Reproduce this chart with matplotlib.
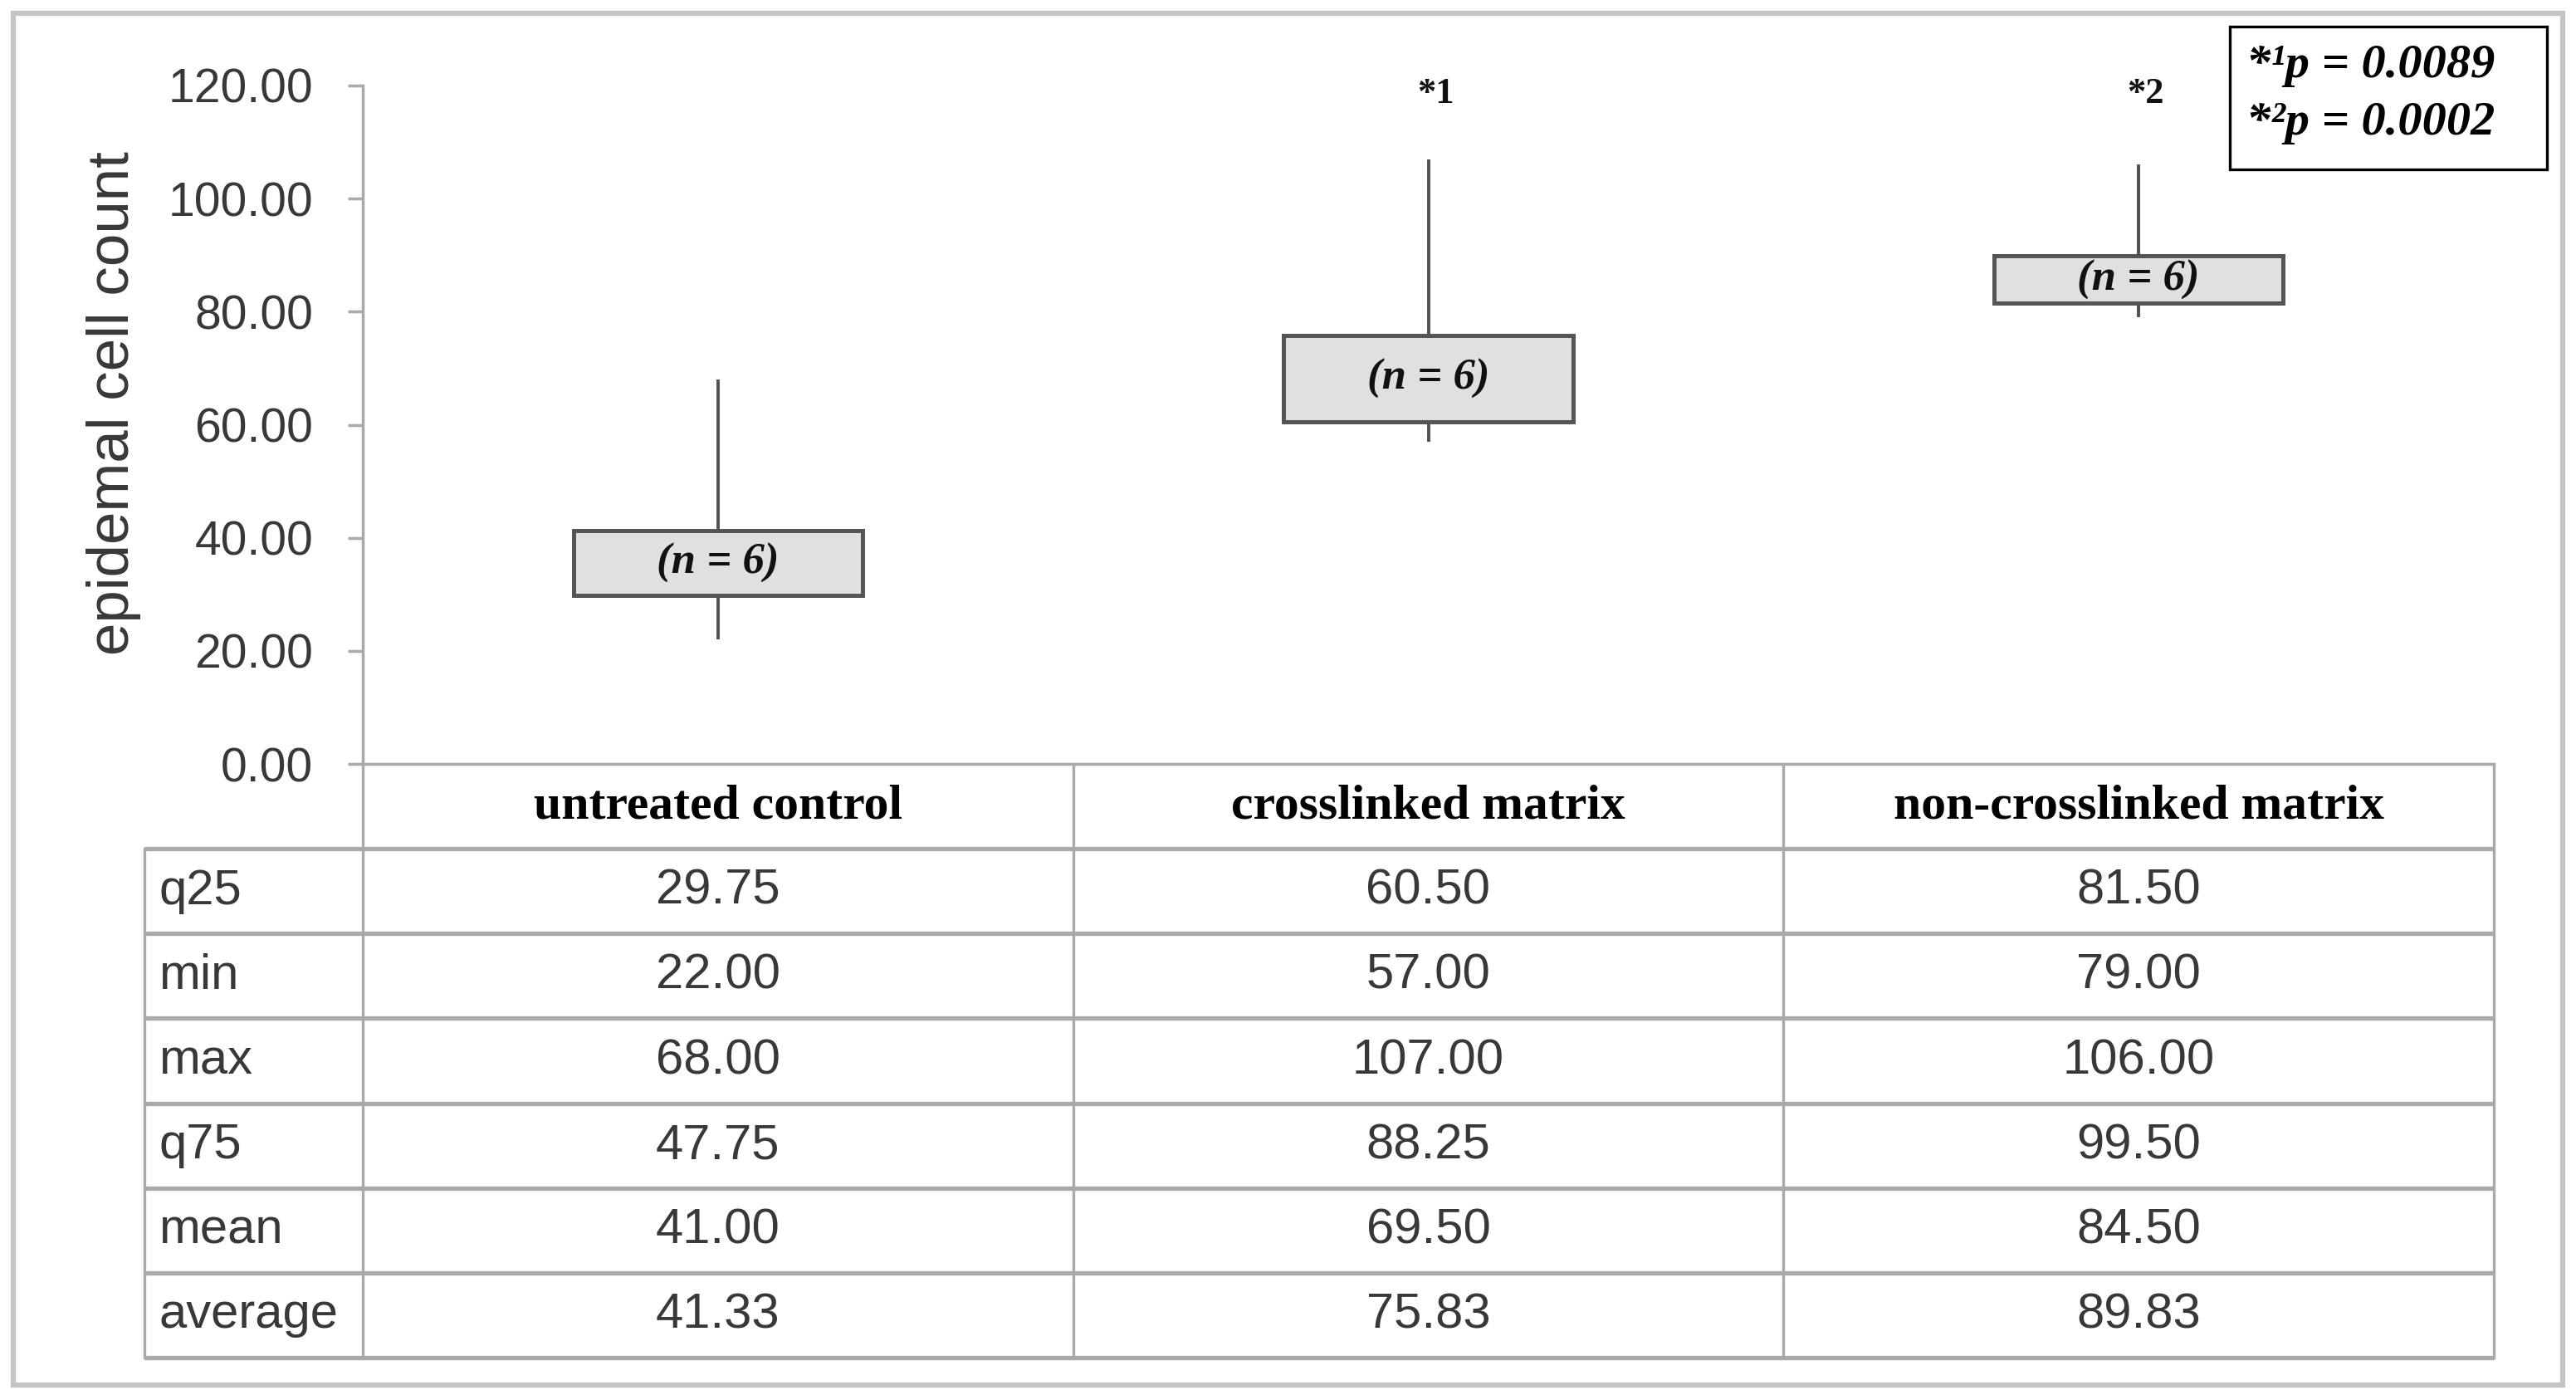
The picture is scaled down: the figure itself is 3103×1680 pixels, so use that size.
import matplotlib
matplotlib.use("Agg")
import matplotlib.pyplot as plt
from matplotlib.patches import Rectangle

# ---- data ----
categories = ["untreated control", "crosslinked matrix", "non-crosslinked matrix"]
q25 = [29.75, 60.50, 81.50]
mins = [22.00, 57.00, 79.00]
maxs = [68.00, 107.00, 106.00]
q75 = [47.75, 88.25, 99.50]
means = [41.00, 69.50, 84.50]
averages = [41.33, 75.83, 89.83]
row_labels = ["q25", "min", "max", "q75", "mean", "average"]
n_labels = ["(n = 6)", "(n = 6)", "(n = 6)"]
star_labels = ["", "*1", "*2"]
pvalue_lines = ["*\u00b9p = 0.0089", "*\u00b2p = 0.0002"]
yticks = [0, 20, 40, 60, 80, 100, 120]
ylabel = "epidemal cell count"

W, H = 3103, 1680
fig = plt.figure(figsize=(W / 100, H / 100), dpi=100)

SANS = ["Liberation Sans", "DejaVu Sans"]
SERIF = ["Liberation Serif", "DejaVu Serif"]
GRID = "#a9a9a9"
TXT = "#383838"

def fx(px):
    return px / W

def fy(py):
    return 1 - py / H

# outer frame
fig.patches.append(Rectangle((fx(16), fy(1668)), fx(3087) - fx(16), fy(16) - fy(1668),
                             transform=fig.transFigure, fill=False, edgecolor="#c4c4c4", lw=4.5))

# ---- main axes ----
ax_l, ax_r, ax_t, ax_b = 437, 3004, 103, 920
ax = fig.add_axes([fx(ax_l), fy(ax_b), fx(ax_r) - fx(ax_l), fy(ax_t) - fy(ax_b)])
ax.set_xlim(-0.5, 2.5)
ax.set_ylim(0, 120)
for s in ["top", "right"]:
    ax.spines[s].set_visible(False)
for s in ["left", "bottom"]:
    ax.spines[s].set_color(GRID)
    ax.spines[s].set_linewidth(2.5)
ax.set_xticks([])
ax.set_yticks(yticks)
ax.set_yticklabels([f"{v:.2f}" for v in yticks], family=SANS, fontsize=41, color=TXT)
ax.tick_params(axis="y", length=13, width=2.5, color=GRID, pad=30)

xs = list(range(len(categories)))
ax.vlines(xs, mins, maxs, colors="#505050", lw=2.8, zorder=2)
heights = [a - q for a, q in zip(averages, q25)]
ax.bar(xs, heights, bottom=q25, width=0.407, color="#e0e0e0",
       edgecolor="#555555", linewidth=3.6, zorder=3)
for x, q, a, lab in zip(xs, q25, averages, n_labels):
    ax.text(x, (q + a) / 2, lab, ha="center", va="center", family=SERIF,
            style="italic", weight="bold", fontsize=38, color="#111111", zorder=4)
for x, lab in zip(xs, star_labels):
    if lab:
        ax.text(x + 0.01, 118.5, lab, ha="center", va="center", family=SERIF,
                weight="bold", fontsize=32, color="#111111")

# y label
fig.text(fx(137), fy(486), ylabel, rotation=90, ha="center", va="center",
         family=SANS, fontsize=51, color=TXT)

# p-value legend box
fig.patches.append(Rectangle((fx(2686), fy(204)), fx(3068) - fx(2686), fy(32) - fy(204),
                             transform=fig.transFigure, fill=False, edgecolor="black", lw=2.4))
for i, line in enumerate(pvalue_lines):
    fig.text(fx(2706), fy(79 + 69 * i), line, ha="left", va="center", family=SERIF,
             style="italic", weight="bold", fontsize=42, color="black")

# ---- table ----
tb_l, tb_t, tb_b = 174, 920, 1635
tax = fig.add_axes([fx(tb_l), fy(tb_b), fx(ax_r) - fx(tb_l), fy(tb_t) - fy(tb_b)])
unit = (ax_r - ax_l) / 3.0
xl = -0.5 - (ax_l - tb_l) / unit
nrows = len(row_labels) + 1
tax.set_xlim(xl, 2.5)
tax.set_ylim(nrows, 0)
tax.axis("off")

# horizontal lines
for r in range(1, nrows + 1):
    tax.plot([xl, 2.5], [r, r], color=GRID, lw=3.8, clip_on=False, solid_capstyle="butt")
# vertical lines
tax.plot([xl, xl], [1, nrows], color=GRID, lw=2.4, clip_on=False)
for b in [-0.5, 0.5, 1.5, 2.5]:
    tax.plot([b, b], [0, nrows], color=GRID, lw=2.4, clip_on=False)

for x, c in zip(xs, categories):
    tax.text(x, 0.5, c, ha="center", va="center", family=SERIF, weight="bold",
             fontsize=43, color="black")

stats = [q25, mins, maxs, q75, means, averages]
for r, (lab, vals) in enumerate(zip(row_labels, stats), start=1):
    tax.text(xl + 0.02, r + 0.5, lab, ha="left", va="center", family=SANS,
             fontsize=43, color=TXT)
    for x, v in zip(xs, vals):
        tax.text(x, r + 0.5, f"{v:.2f}", ha="center", va="center", family=SANS,
                 fontsize=43, color=TXT)

fig.savefig("out.png", dpi=100, facecolor="white")
